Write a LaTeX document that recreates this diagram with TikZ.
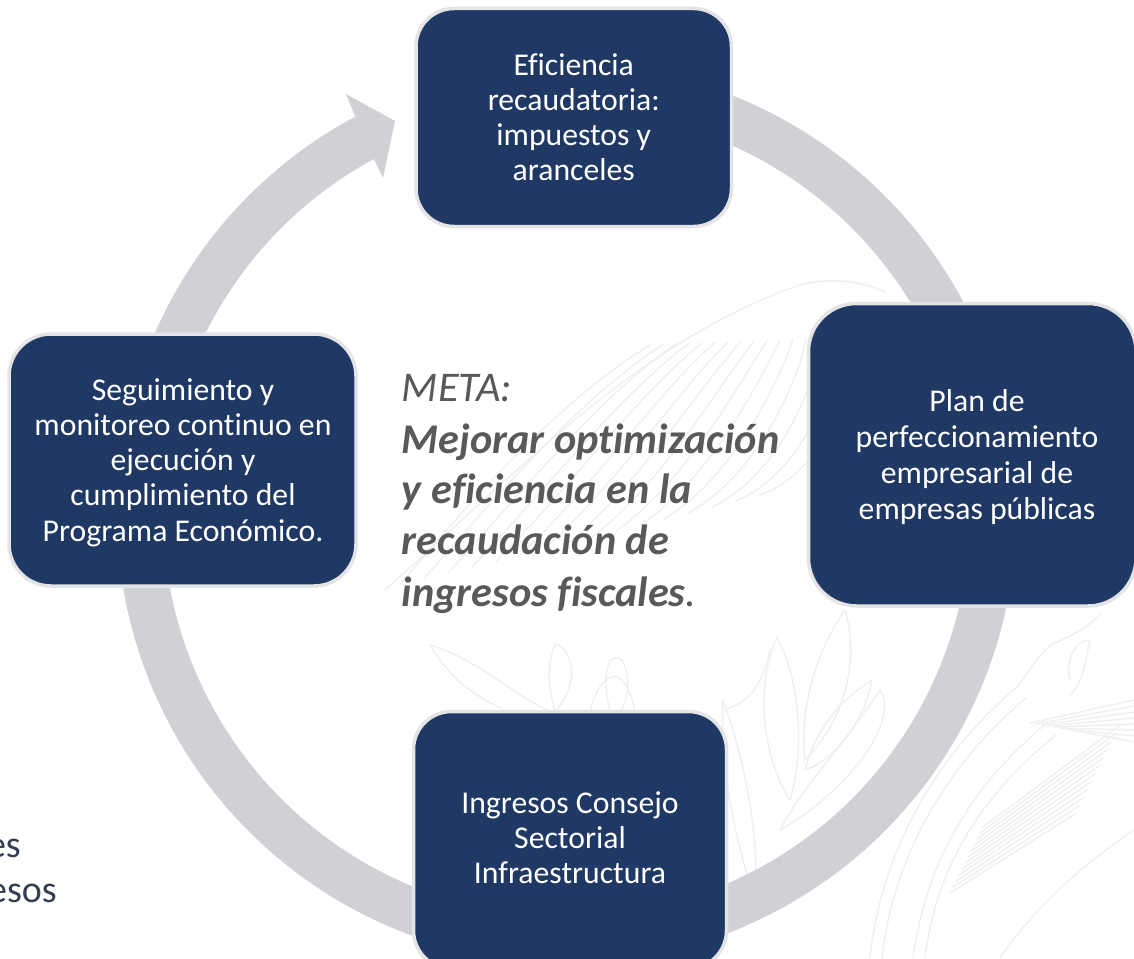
\documentclass[tikz,border=0pt]{standalone}
\usepackage{fontspec}
\setmainfont[Ligatures=NoCommon]{Carlito}
\usetikzlibrary{calc}
\definecolor{navy}{HTML}{203864}
\definecolor{boxedge}{HTML}{E3E4E6}
\definecolor{ringgrey}{HTML}{CFD1D5}
\definecolor{metagrey}{HTML}{595959}
\definecolor{cutink}{HTML}{333F50}
\definecolor{wm}{HTML}{EFEFEF}
\newcommand{\boxlines}[3]{\hspace*{#1pt}\smash{\raisebox{#2pt}{\smash{\fontsize{31.7}{35.3}\selectfont\begin{tabular}[t]{@{}c@{}}#3\end{tabular}}}}}
\tikzset{
  x=1pt,y=1pt,
  cyclebox/.style={draw=boxedge,line width=3.5pt,fill=navy,text=white,rounded corners=#1,inner sep=0pt,anchor=center},
  metaline/.style={anchor=base west,inner sep=0pt,text=metagrey,font=\fontsize{42.3}{48}\selectfont\itshape},
  metabold/.style={metaline,font=\fontsize{42.3}{48}\selectfont\itshape\bfseries},
  cutline/.style={anchor=base east,inner sep=0pt,text=cutink,font=\fontsize{38}{44}\selectfont},
  mark line/.style={draw=wm,line width=1.4pt,line cap=round},
}
\begin{document}
\begin{tikzpicture}
\clip (0,0) rectangle (1134,-958);
\fill[white] (0,0) rectangle (1134,-958);
% faint emblem in the background
\begin{scope}[mark line]
  \draw (385,-590) .. controls (520,-470) and (640,-340) .. (800,-285) .. controls (840,-275) and (870,-285) .. (885,-292);
  \foreach \i in {0,...,15}{
    \draw ({400+24*\i},{-585+6*\i}) .. controls ({470+24*\i},{-500+2*\i}) and ({560+20*\i},{-400+2*\i}) .. ({650+13*\i},{-345+0.5*\i});
  }
  \draw (777,-637) .. controls (750,-700) and (770,-770) .. (790,-800) .. controls (805,-750) and (800,-680) .. (777,-637);
  \draw (845,-610) .. controls (810,-660) and (800,-720) .. (805,-760) .. controls (845,-720) and (860,-660) .. (845,-610);
  \draw (872,-680) .. controls (840,-700) and (815,-730) .. (805,-770) .. controls (835,-760) and (865,-720) .. (872,-680);
  \draw (723,-700) .. controls (745,-760) and (760,-840) .. (755,-900) .. controls (735,-840) and (720,-770) .. (723,-700);
  \draw (780,-830) .. controls (800,-790) and (840,-750) .. (880,-690) .. controls (900,-720) and (850,-790) .. (780,-830);
  \draw (870,-958) .. controls (880,-860) and (930,-760) .. (1017,-687);
  \draw (882,-958) .. controls (892,-865) and (940,-770) .. (1026,-698);
  \draw (913,-958) .. controls (925,-870) and (965,-790) .. (1047,-723);
  \draw (925,-958) .. controls (935,-875) and (975,-800) .. (1056,-735);
  \foreach \i in {0,...,11}{
    \draw ({950+3*\i},{-893+6*\i}) -- ({1075+4*\i},{-800+8*\i-14});
  }
  \foreach \i in {0,...,7}{
    \draw ({1030+6*\i},{-723-\i}) -- ({1134},{-700-6*\i});
  }
  \draw (1017,-687) .. controls (1030,-670) and (1035,-660) .. (1050,-645) .. controls (1075,-635) and (1090,-625) .. (1100,-615);
  \draw (1000,-958) .. controls (1040,-900) and (1090,-860) .. (1134,-830);
  \draw (1070,-680) .. controls (1065,-660) and (1075,-640) .. (1090,-640) .. controls (1085,-660) and (1085,-680) .. (1070,-695);
  \draw (430,-645) .. controls (480,-660) and (520,-700) .. (552,-712);
  \draw (430,-645) .. controls (450,-680) and (480,-700) .. (510,-712);
  \draw (555,-712) .. controls (590,-670) and (560,-640) .. (555,-645) .. controls (545,-670) and (550,-690) .. (555,-712);
  \draw (590,-712) .. controls (600,-670) and (625,-660) .. (635,-712);
  \draw (610,-712) .. controls (600,-670) and (610,-650) .. (622,-660) .. controls (632,-680) and (628,-700) .. (620,-712);
  \draw (725,-710) .. controls (750,-700) and (760,-690) .. (770,-650);
\end{scope}
% the ring with its arrow head
\coordinate (C) at (566.6,-513.4);
\coordinate (headBackA) at (346,-94);
\coordinate (headTip) at (395,-121);
\coordinate (headBackB) at (383,-178);
\coordinate (headInner) at (373,-157);
\fill[ringgrey] ($(C)+(90:449.5)$) arc[start angle=90,end angle=-241.97,radius=449.5]
  -- (headBackA) -- (headTip) -- (headBackB) -- (headInner)
  -- ($(C)+(-241.5:403.5)$) arc[start angle=-241.5,end angle=90,radius=403.5] -- cycle;
% boxes
\node[cyclebox=38pt,minimum width=315.5pt,minimum height=218pt] (top) at (573.75,-117.5)
  {\boxlines{0}{42.5}{Eficiencia\\recaudatoria:\\impuestos y\\aranceles}};
\node[cyclebox=48pt,minimum width=327.5pt,minimum height=302.5pt] (right) at (972.25,-454.75)
  {\boxlines{9.5}{43.75}{Plan de\\[0.7pt]perfeccionamiento\\[0.7pt]empresarial de\\[0.7pt]empresas públicas}};
\node[cyclebox=38pt,minimum width=313pt,minimum height=257pt] (bottom) at (570,-840)
  {\boxlines{0}{27}{Ingresos Consejo\\Sectorial\\Infraestructura}};
\node[cyclebox=42pt,minimum width=347pt,minimum height=252pt] (left) at (182.5,-460)
  {\boxlines{1}{60}{Seguimiento y\\monitoreo continuo en\\ejecución y\\cumplimiento del\\Programa Económico.}};
% centre text
\node[metaline] (meta0) at (401.7,-401.5) {META:};
\node[metabold] (meta1) at (401.7,-453) {Mejorar optimización};
\node[metabold] (meta2) at (401.7,-503.5) {y eficiencia en la};
\node[metabold] (meta3) at (401.7,-554) {recaudación de};
\node[metabold] (meta4) at (401.7,-606) {ingresos fiscales\textmd{.}};
% cut-off text at the left edge
\node[cutline] (cutA) at (21,-857) {es};
\node[cutline] (cutB) at (57,-902) {esos};
\end{tikzpicture}
\end{document}
